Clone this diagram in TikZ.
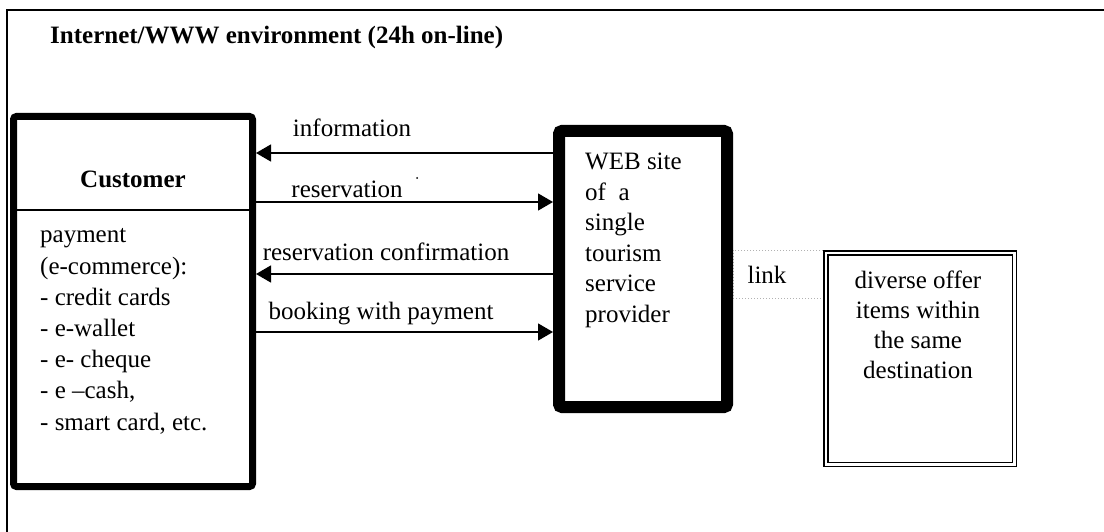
\documentclass[tikz,border=0pt]{standalone}
\usepackage{fontspec}
\setmainfont{Liberation Serif}
\usetikzlibrary{arrows.meta}
\begin{document}
\begin{tikzpicture}[x=1pt,y=-1pt,
  txt/.style={font=\fontsize{25}{30.5}\selectfont, inner sep=0pt},
  boldtxt/.style={font=\fontsize{25}{30}\selectfont\bfseries, inner sep=0pt},
  thickbox/.style={draw, rounded corners=3pt, inner sep=0pt},
  arr/.style={line width=1.4pt, -{Triangle[length=15pt,width=17pt]}},
  ]
\useasboundingbox (0,0) rectangle (1104,532);
% outer environment frame
\coordinate (fa) at (7,532);
\coordinate (fb) at (7,10);
\coordinate (fc) at (1104,10);
\draw[line width=2pt] (fa) -- (fb) -- (fc);
\node[boldtxt, anchor=base west] (title) at (50,44) {Internet/WWW environment (24h on-line)};

% link box (behind)
\node[draw=gray!60, dotted, line width=1pt, minimum width=90pt, minimum height=48pt, inner sep=0pt] (link) at (778,274) {};
\node[txt, anchor=base] (linklabel) at (767,283) {link};

% customer
\node[thickbox, line width=7pt, minimum width=239pt, minimum height=370pt] (cust) at (133,301.5) {};
\coordinate (dl) at (17,210);
\draw[line width=1.5pt] (cust.west |- dl) -- (cust.east |- dl);
\node[boldtxt, anchor=base] (custname) at (133,188) {Customer};
\node[txt, font=\fontsize{25}{31.2}\selectfont, anchor=base west] (pay) at (40,243)
  {\begin{tabular}[t]{@{}l@{}}payment\\(e-commerce):\\- credit cards\\- e-wallet\\- e- cheque\\- e –cash,\\- smart card, etc.\end{tabular}};

% web site
\node[thickbox, line width=12pt, minimum width=168pt, minimum height=276pt] (web) at (643,269) {};
\node[txt, anchor=base west] (webtext) at (585,170)
  {\begin{tabular}[t]{@{}l@{}}WEB site\\of \ a\\single\\tourism\\service\\provider\end{tabular}};

% diverse offer
\node[draw, double, double distance=2.5pt, line width=1.5pt, minimum width=188.5pt, minimum height=211.5pt, inner sep=0pt] (div) at (920,358.5) {};
\node[txt, font=\fontsize{25}{30}\selectfont, anchor=base] (divtext) at (918,288)
  {\begin{tabular}[t]{@{}c@{}}diverse offer\\items within\\the same\\destination\end{tabular}};

% arrows
\coordinate (y1) at (0,153);
\coordinate (y2) at (0,202);
\coordinate (y3) at (0,274);
\coordinate (y4) at (0,332);
\draw[arr] (web.west |- y1) -- (cust.east |- y1);
\draw[arr] (cust.east |- y2) -- (web.west |- y2);
\draw[arr] (web.west |- y3) -- (cust.east |- y3);
\draw[arr] (cust.east |- y4) -- (web.west |- y4);
\node[txt, anchor=base] (l1) at (352,137) {information};
\node[txt, anchor=base] (l2) at (347,198) {reservation};
\node[txt, anchor=base] (l3) at (386,260) {reservation confirmation};
\node[txt, anchor=base] (l4) at (381,319) {booking with payment};
\fill (417,178) circle (1pt);
\end{tikzpicture}
\end{document}
